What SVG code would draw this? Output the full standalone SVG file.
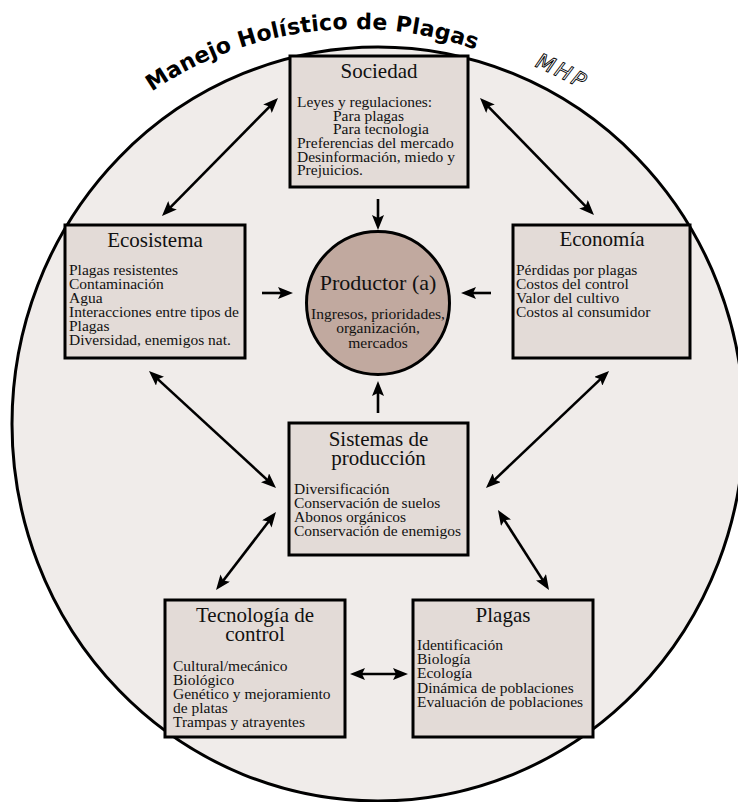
<svg xmlns="http://www.w3.org/2000/svg" width="738" height="802" viewBox="0 0 738 802">
<defs>
<style>
.box{fill:#e3dbd7;stroke:#000;stroke-width:3}
.h{font-family:"Liberation Serif",serif;font-size:21px;text-anchor:middle;fill:#111}
.t{font-family:"Liberation Serif",serif;font-size:15.5px;fill:#111}
.c{text-anchor:middle}
.arr{stroke:#000;stroke-width:2.6;fill:none}
.title{font-family:"DejaVu Sans",sans-serif;font-weight:bold;font-size:22px;letter-spacing:0.2px;fill:#000}
.mhp{font-family:"DejaVu Sans",sans-serif;font-size:21px;font-style:italic;fill:#fff;stroke:#000;stroke-width:0.9;letter-spacing:2.5px}
</style>
<marker id="ah" viewBox="0 0 15 12" refX="9" refY="6" markerWidth="15" markerHeight="12" markerUnits="userSpaceOnUse" orient="auto-start-reverse">
<path d="M0,0 L15,6 L0,12 L3,6 z" fill="#000"/>
</marker>
<path id="arc" d="M16.7 265.9 A360 360 0 0 1 693.3 265.9"/>
<path id="arc2" d="M-5 250.5 A433 433 0 0 1 745 250.5"/>
</defs>
<rect width="738" height="802" fill="#fff"/>
<ellipse cx="378" cy="424" rx="366" ry="377" fill="#f0ecea" stroke="#000" stroke-width="3"/>
<text class="title"><textPath href="#arc" startOffset="224">Manejo Holístico de Plagas</textPath></text>
<text class="mhp"><textPath href="#arc2" startOffset="622">MHP</textPath></text>

<g id="connectors">
<line class="arr" x1="273.8" y1="102.3" x2="166.2" y2="211.7" marker-start="url(#ah)" marker-end="url(#ah)"/>
<line class="arr" x1="484.2" y1="102.3" x2="589.8" y2="210.7" marker-start="url(#ah)" marker-end="url(#ah)"/>
<line class="arr" x1="378" y1="199" x2="378" y2="224" marker-end="url(#ah)"/>
<line class="arr" x1="262" y1="293" x2="287" y2="293" marker-end="url(#ah)"/>
<line class="arr" x1="491" y1="293" x2="467" y2="293" marker-end="url(#ah)"/>
<line class="arr" x1="378" y1="413" x2="378" y2="387" marker-end="url(#ah)"/>
<line class="arr" x1="153.4" y1="375.1" x2="271.6" y2="483.9" marker-start="url(#ah)" marker-end="url(#ah)"/>
<line class="arr" x1="604.7" y1="375.1" x2="490.3" y2="483.9" marker-start="url(#ah)" marker-end="url(#ah)"/>
<line class="arr" x1="272.3" y1="516.8" x2="219.7" y2="585.2" marker-start="url(#ah)" marker-end="url(#ah)"/>
<line class="arr" x1="501.2" y1="515.1" x2="545.8" y2="584.9" marker-start="url(#ah)" marker-end="url(#ah)"/>
<line class="arr" x1="356" y1="674" x2="402" y2="674" marker-start="url(#ah)" marker-end="url(#ah)"/>
</g>

<g id="sociedad">
<rect class="box" x="290" y="56" width="178" height="131"/>
<text class="h" x="379" y="78">Sociedad</text>
<text class="t"><tspan x="297" y="107">Leyes y regulaciones:</tspan><tspan x="333" y="121">Para plagas</tspan><tspan x="333" y="134">Para tecnologia</tspan><tspan x="297" y="148">Preferencias del mercado</tspan><tspan x="297" y="161.5">Desinformación, miedo y</tspan><tspan x="297" y="175">Prejuicios.</tspan></text>
</g>

<g id="ecosistema">
<rect class="box" x="65" y="225" width="180" height="133"/>
<text class="h" x="155" y="247">Ecosistema</text>
<text class="t"><tspan x="69" y="275">Plagas resistentes</tspan><tspan x="69" y="288.5">Contaminación</tspan><tspan x="69" y="302.5">Agua</tspan><tspan x="69" y="316.5">Interacciones entre tipos de</tspan><tspan x="69" y="331">Plagas</tspan><tspan x="69" y="345">Diversidad, enemigos nat.</tspan></text>
</g>

<g id="economia">
<rect class="box" x="513" y="225" width="177" height="133"/>
<text class="h" x="602" y="246">Economía</text>
<text class="t"><tspan x="516" y="275">Pérdidas por plagas</tspan><tspan x="516" y="288.5">Costos del control</tspan><tspan x="516" y="302.5">Valor del cultivo</tspan><tspan x="516" y="316.5">Costos al consumidor</tspan></text>
</g>

<g id="productor">
<circle cx="378" cy="303" r="71.5" fill="#c1a99f" stroke="#000" stroke-width="3"/>
<text class="h" x="378" y="290" style="font-size:22px">Productor (a)</text>
<text class="t c"><tspan x="378" y="319">Ingresos, prioridades,</tspan><tspan x="378" y="333">organización,</tspan><tspan x="378" y="347.5">mercados</tspan></text>
</g>

<g id="sistemas">
<rect class="box" x="289" y="423" width="179" height="132"/>
<text class="h"><tspan x="378.5" y="446">Sistemas de</tspan><tspan x="378.5" y="465">producción</tspan></text>
<text class="t"><tspan x="294" y="494">Diversificación</tspan><tspan x="294" y="508">Conservación de suelos</tspan><tspan x="294" y="522">Abonos orgánicos</tspan><tspan x="294" y="536">Conservación de enemigos</tspan></text>
</g>

<g id="tecnologia">
<rect class="box" x="165" y="600" width="180" height="137"/>
<text class="h"><tspan x="255" y="622">Tecnología de</tspan><tspan x="255" y="641">control</tspan></text>
<text class="t"><tspan x="173" y="671">Cultural/mecánico</tspan><tspan x="173" y="684.5">Biológico</tspan><tspan x="173" y="698.5">Genético y mejoramiento</tspan><tspan x="173" y="712.5">de platas</tspan><tspan x="173" y="727">Trampas y atrayentes</tspan></text>
</g>

<g id="plagas">
<rect class="box" x="413" y="600" width="180" height="137"/>
<text class="h" x="503" y="622">Plagas</text>
<text class="t"><tspan x="417" y="650">Identificación</tspan><tspan x="417" y="664">Biología</tspan><tspan x="417" y="678">Ecología</tspan><tspan x="417" y="692.5">Dinámica de poblaciones</tspan><tspan x="417" y="706.5">Evaluación de poblaciones</tspan></text>
</g>
</svg>
